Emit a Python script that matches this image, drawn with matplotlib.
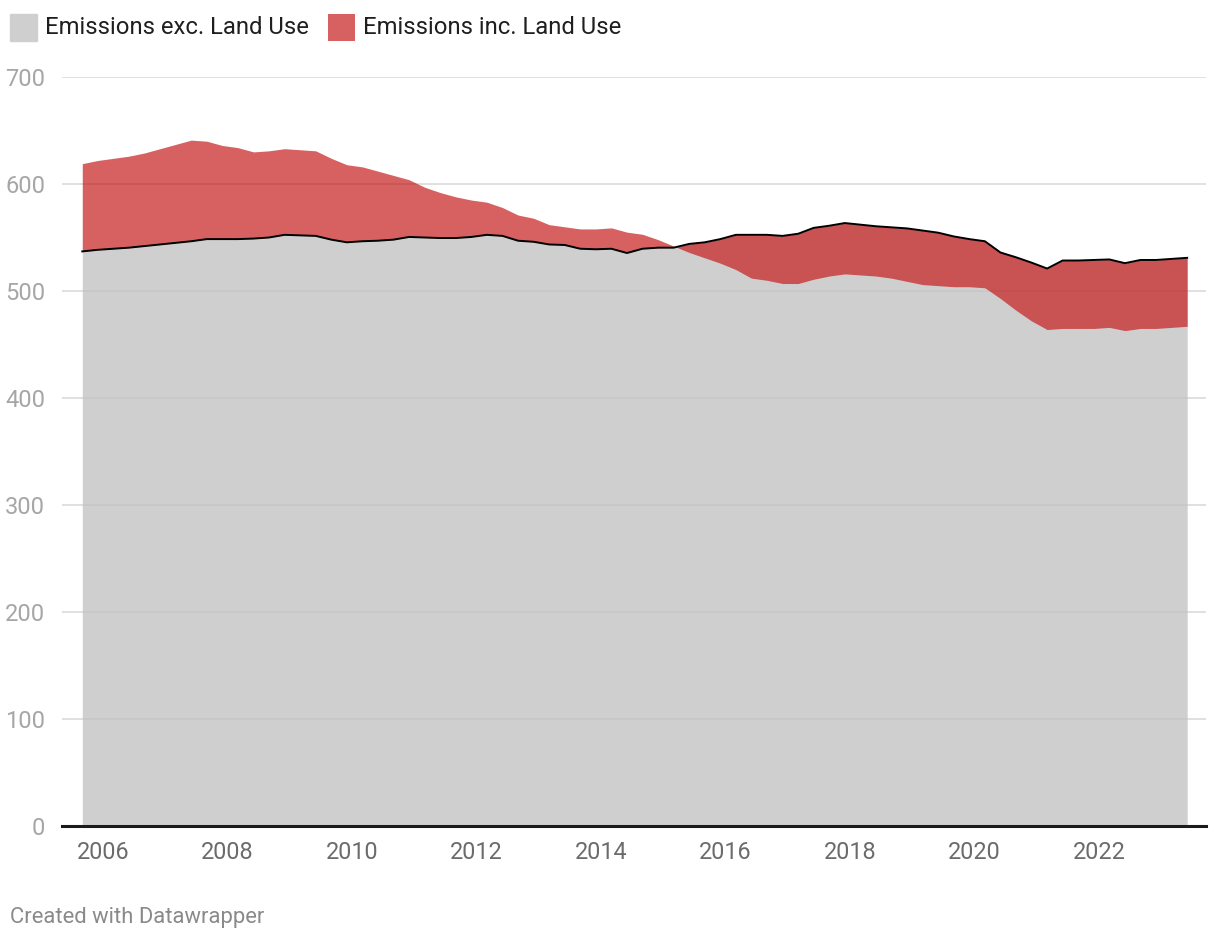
import matplotlib
matplotlib.use("Agg")
import matplotlib.pyplot as plt
import numpy as np
from matplotlib.patches import Rectangle

plt.rcParams['font.family'] = ['Roboto', 'DejaVu Sans']

# quarterly points, 2005 Q3 .. 2023 Q2
start_year = 2005 + 2/3
n_quarters = 72

# black line series
exc_land_use = [537, 538.5, 539.5, 540.5, 542, 543.5, 545, 546.5, 548.5, 548.5,
                548.5, 549, 550, 552.5, 552, 551.5, 548, 545.5, 546.5, 547,
                548, 550.5, 550, 549.5, 549.5, 550.5, 552.5, 551.5, 547, 546,
                543.5, 543, 539.5, 539, 539.5, 535.5, 539.5, 540.5, 540.5, 544,
                545.5, 548.5, 552.5, 552.5, 552.5, 551.5, 553.5, 559, 561, 563.5,
                562, 560.5, 559.5, 558.5, 556.5, 554.5, 551, 548.5, 546.5, 536,
                531.5, 526.5, 521, 528.5, 528.5, 529, 529.5, 526, 529, 529,
                530, 531]

inc_land_use = [619, 622, 624, 626, 629, 633, 637, 641, 640, 636,
                634, 630, 631, 633, 632, 631, 624, 618, 616, 612,
                608, 604, 597, 592, 588, 585, 583, 578, 571, 568,
                562, 560, 558, 558, 559, 555, 553, 548, 542, 536,
                531, 526, 520, 512, 510, 507, 507, 511, 514, 516,
                515, 514, 512, 509, 506, 505, 504, 504, 503, 493,
                482, 472, 464, 465, 465, 465, 466, 463, 465, 465,
                466, 467]

yticks = [0, 100, 200, 300, 400, 500, 600, 700]
xticks = [2006, 2008, 2010, 2012, 2014, 2016, 2018, 2020, 2022]

t = start_year + 0.25 * np.arange(n_quarters)
a = np.array(exc_land_use)
b = np.array(inc_land_use)

W, H = 1220, 942
fig = plt.figure(figsize=(W / 100, H / 100), dpi=100)
ax = fig.add_axes([62 / W, 1 - 826 / H, (1206 - 62) / W, (826 - 77) / H])

gray = '#cfcfcf'
red = '#c71e1d'

# grid: light lines under the areas, faint dark lines over them
for v in yticks[1:]:
    ax.axhline(v, color='#e6e6e6', lw=1.3, zorder=0)
    ax.axhline(v, color='black', lw=1.3, alpha=0.035, zorder=3)

ax.fill_between(t, 0, a, color=gray, lw=0, zorder=1)
ax.fill_between(t, a, b, color=red, alpha=0.7, lw=0, zorder=2)
ax.plot(t, a, color='black', lw=1.4, zorder=4)
ax.axhline(0, color='#1a1a1a', lw=2.2, zorder=5, clip_on=False)

ax.set_xlim(2005.341, 2023.719)
ax.set_ylim(0, 700)
for s in ax.spines.values():
    s.set_visible(False)
ax.set_yticks(yticks)
ax.set_yticklabels([str(v) for v in yticks], color='#a6a6a6', fontsize=17)
ax.set_xticks(xticks)
ax.set_xticklabels([str(v) for v in xticks], color='#6b6b6b', fontsize=16.8)
ax.tick_params(axis='y', length=0, pad=12)
ax.tick_params(axis='x', length=0, pad=11)

# legend
fig.patches.append(Rectangle((10 / W, 1 - 41 / H), 27 / W, 27 / H,
                             transform=fig.transFigure, color=gray))
fig.text(45 / W, 1 - 27 / H, 'Emissions exc. Land Use', fontsize=17.2,
         color='#1f1f1f', va='center', ha='left')
fig.patches.append(Rectangle((328 / W, 1 - 41 / H), 27 / W, 27 / H,
                             transform=fig.transFigure, color=red, alpha=0.7, lw=0))
fig.text(363 / W, 1 - 27 / H, 'Emissions inc. Land Use', fontsize=17.2,
         color='#1f1f1f', va='center', ha='left')

fig.text(10 / W, 1 - 918 / H, 'Created with Datawrapper', fontsize=15.8,
         color='#8a8a8a', va='center', ha='left')

fig.savefig('out.png', dpi=100)
